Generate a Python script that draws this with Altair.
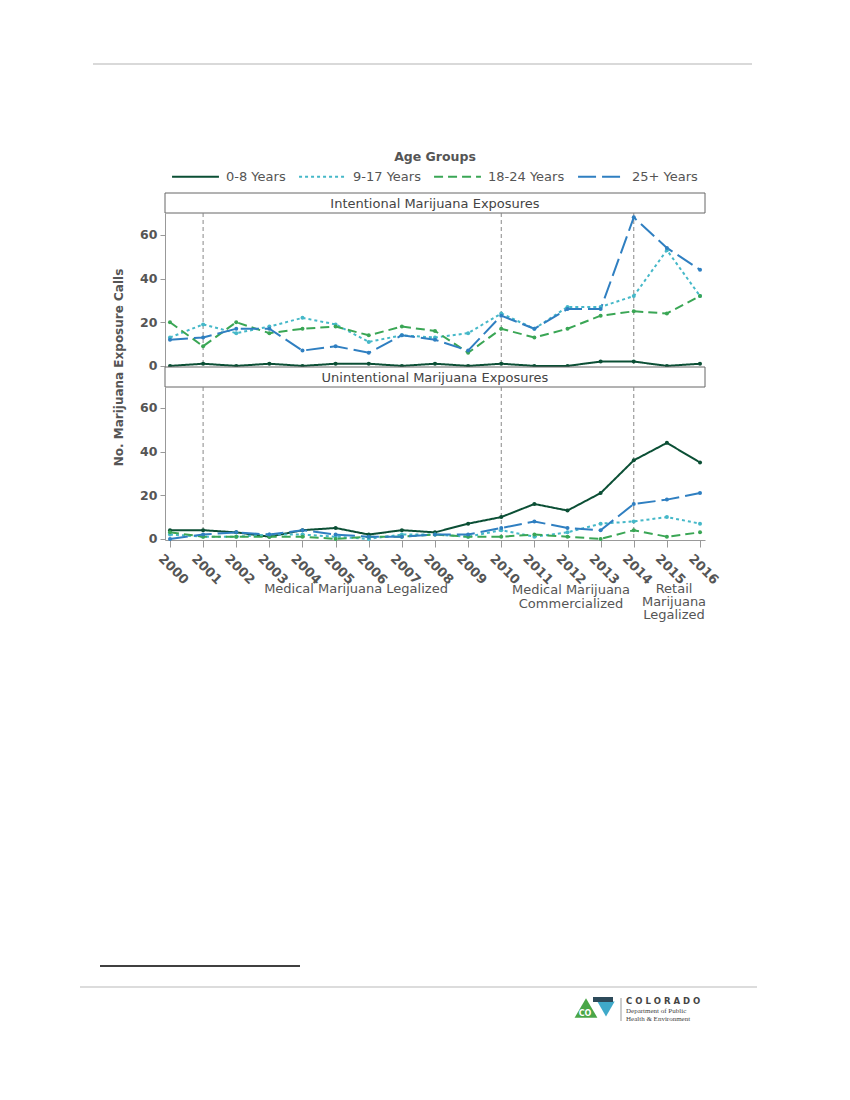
import altair as alt
import pandas as pd

# ---------------- data ----------------
years = [str(y) for y in range(2000, 2017)]
groups = ["0-8 Years", "9-17 Years", "18-24 Years", "25+ Years"]

int_08 = [0, 1, 0, 1, 0, 1, 1, 0, 1, 0, 1, 0, 0, 2, 2, 0, 1]
int_917 = [13, 19, 15, 18, 22, 19, 11, 14, 13, 15, 24, 17, 27, 27, 32, 53, 32]
int_1824 = [20, 9, 20, 15, 17, 18, 14, 18, 16, 6, 17, 13, 17, 23, 25, 24, 32]
int_25 = [12, 13, 17, 17, 7, 9, 6, 14, 12, 7, 23, 17, 26, 26, 68, 54, 44]

unint_08 = [4, 4, 3, 1, 4, 5, 2, 4, 3, 7, 10, 16, 13, 21, 36, 44, 35]
unint_917 = [2, 1, 1, 2, 2, 1, 0, 2, 2, 1, 4, 1, 3, 7, 8, 10, 7]
unint_1824 = [3, 1, 1, 1, 1, 0, 1, 1, 2, 1, 1, 2, 1, 0, 4, 1, 3]
unint_25 = [0, 2, 3, 2, 4, 2, 1, 1, 2, 2, 5, 8, 5, 4, 16, 18, 21]

event_years = ["2001", "2010", "2014"]
y_ticks = [0, 20, 40, 60]

# ---------------- styles ----------------
colors = ["#0b4f35", "#45b8c8", "#3aa655", "#2f7fc1"]
dashes = [[1, 0], [3, 3], [9, 5], [18, 6]]
FONT = "DejaVu Sans"
GRAY = "#555555"
AXGRAY = "#999999"
W = 540


def to_long(series):
    rows = []
    for g, vals in zip(groups, series):
        for yr, v in zip(years, vals):
            rows.append({"year": yr, "group": g, "value": v})
    return pd.DataFrame(rows)


df_int = to_long([int_08, int_917, int_1824, int_25])
df_unint = to_long([unint_08, unint_917, unint_1824, unint_25])
df_events = pd.DataFrame({"year": event_years})
one = pd.DataFrame({"k": [0]})

color_scale = alt.Scale(domain=groups, range=colors)
dash_scale = alt.Scale(domain=groups, range=dashes)
x_scale = alt.Scale(type="point", domain=years, padding=0.15)

legend = alt.Legend(
    title=None, orient="none", legendX=6, legendY=144,
    direction="horizontal", columns=4,
    symbolType="stroke", symbolSize=2200, symbolStrokeWidth=2,
    labelFont=FONT, labelFontSize=13, labelColor=GRAY,
    columnPadding=9, labelOffset=6,
)


def panel(df, height, ydomain, bottom):
    if bottom:
        xax = alt.Axis(labelAngle=45, labelAlign="center", labelBaseline="middle",
                       labelPadding=22, labelOffset=3, labelFont=FONT,
                       labelFontWeight="bold", labelFontSize=13, labelColor=GRAY,
                       tickSize=7, tickColor=AXGRAY, domainColor=AXGRAY,
                       labelOverlap=False)
        yax = alt.Axis(values=y_ticks, grid=False, labelFont=FONT, labelFontWeight="bold",
                       labelFontSize=12.5, labelColor=GRAY, tickColor=AXGRAY,
                       domainColor=AXGRAY, tickSize=5, labelPadding=3,
                       title="No. Marijuana Exposure Calls", titleFont=FONT,
                       titleFontSize=12, titleFontWeight="bold", titleColor=GRAY,
                       titleX=-40, titleY=-20, titleAlign="center")
    else:
        xax = None
        yax = alt.Axis(values=y_ticks, grid=False, labelFont=FONT, labelFontWeight="bold",
                       labelFontSize=12.5, labelColor=GRAY, tickColor=AXGRAY,
                       domainColor=AXGRAY, tickSize=5, labelPadding=3, title=None)
    X = alt.X("year:O", scale=x_scale, axis=xax, title=None)
    Y = alt.Y("value:Q", scale=alt.Scale(domain=ydomain, nice=False, zero=False), axis=yax)

    rules = alt.Chart(df_events).mark_rule(color="#888888", strokeDash=[4, 3], strokeWidth=1).encode(x=X)
    lines = alt.Chart(df).mark_line(
        strokeWidth=2,
        point=alt.OverlayMarkDef(filled=True, size=16, opacity=1),
    ).encode(
        x=X, y=Y,
        color=alt.Color("group:N", scale=color_scale, sort=groups, legend=legend),
        strokeDash=alt.StrokeDash("group:N", scale=dash_scale, sort=groups, legend=legend),
    )
    return [rules, lines]


def strip(label):
    box = alt.Chart(one).mark_rect(fill="white", stroke="#666666", strokeWidth=1).encode(
        x=alt.value(0), x2=alt.value(W), y=alt.value(0), y2=alt.value(20))
    txt = alt.Chart(one).mark_text(font=FONT, fontSize=13, color="#444444", baseline="middle").encode(
        x=alt.value(W / 2), y=alt.value(10.5), text=alt.value(label))
    return alt.layer(box, txt).properties(width=W, height=20)


# header: page anchor + top page rule + legend title
anchor = alt.Chart(one).mark_rect(fill="white", opacity=0).encode(
    x=alt.value(-157), x2=alt.value(675), y=alt.value(0), y2=alt.value(1082))
top_line = alt.Chart(one).mark_rule(color="#cccccc", strokeWidth=1.5).encode(
    x=alt.value(-72), x2=alt.value(587), y=alt.value(56))
legend_title = alt.Chart(one).mark_text(font=FONT, fontSize=12.5, fontWeight="bold", color=GRAY,
                                        baseline="middle").encode(
    x=alt.value(270), y=alt.value(149), text=alt.value("Age Groups"))
header = alt.layer(anchor, top_line, legend_title).properties(width=W, height=185)

top_panel = alt.layer(*panel(df_int, 154, [-0.5, 70], False)).properties(width=W, height=154)

# annotations and page footer (drawn in bottom panel coordinates)
ann_kw = dict(font=FONT, fontSize=13, color=GRAY, baseline="top", align="center")
ann1 = alt.Chart(one).mark_text(**ann_kw).encode(
    x=alt.value(191), y=alt.value(196), text=alt.value("Medical Marijuana Legalized"))
ann2 = alt.Chart(one).mark_text(lineHeight=14, **ann_kw).encode(
    x=alt.value(406), y=alt.value(197), text=alt.value(["Medical Marijuana", "Commercialized"]))
ann3 = alt.Chart(one).mark_text(lineHeight=13, **ann_kw).encode(
    x=alt.value(509), y=alt.value(196), text=alt.value(["Retail", "Marijuana", "Legalized"]))

foot_line = alt.Chart(one).mark_rule(color="#000000", strokeWidth=1.5).encode(
    x=alt.value(-65), x2=alt.value(135), y=alt.value(579))
page_line = alt.Chart(one).mark_rule(color="#d0d0d0", strokeWidth=1.5).encode(
    x=alt.value(-85), x2=alt.value(592), y=alt.value(600))
logo_tri = alt.Chart(one).mark_point(shape="triangle-up", filled=True, color="#4aa648", size=520, opacity=1).encode(
    x=alt.value(421), y=alt.value(621))
logo_co = alt.Chart(one).mark_text(font=FONT, fontSize=8, fontWeight="bold", color="white").encode(
    x=alt.value(420), y=alt.value(627), text=alt.value("CO"))
logo_blue = alt.Chart(one).mark_point(shape="triangle-down", filled=True, color="#3fa9c9", size=300, opacity=1).encode(
    x=alt.value(441), y=alt.value(622))
logo_band = alt.Chart(one).mark_rect(color="#2d4a5a").encode(
    x=alt.value(428), x2=alt.value(448), y=alt.value(610), y2=alt.value(615))
logo_div = alt.Chart(one).mark_rule(color="#999999", strokeWidth=1).encode(
    x=alt.value(456), y=alt.value(611), y2=alt.value(634))
logo_t1 = alt.Chart(one).mark_text(font=FONT, fontSize=8.5, fontWeight="bold", color="#444444", align="left").encode(
    x=alt.value(461), y=alt.value(614), text=alt.value("C O L O R A D O"))
logo_t2 = alt.Chart(one).mark_text(font="Liberation Serif", fontSize=7, color="#444444", align="left").encode(
    x=alt.value(461), y=alt.value(624), text=alt.value("Department of Public"))
logo_t3 = alt.Chart(one).mark_text(font="Liberation Serif", fontSize=7, color="#444444", align="left").encode(
    x=alt.value(461), y=alt.value(632), text=alt.value("Health & Environment"))

bottom_panel = alt.layer(
    *panel(df_unint, 153, [-0.5, 69.6], True),
    ann1, ann2, ann3, foot_line, page_line,
    logo_tri, logo_co, logo_blue, logo_band, logo_div, logo_t1, logo_t2, logo_t3,
).properties(width=W, height=153)

chart = alt.vconcat(
    header,
    strip("Intentional Marijuana Exposures"),
    top_panel,
    strip("Unintentional Marijuana Exposures"),
    bottom_panel,
    spacing=0, bounds="flush",
).resolve_scale(color="shared", strokeDash="shared").resolve_legend(
    color="shared", strokeDash="shared"
).properties(padding=0, background="white").configure_view(stroke=None)

chart.save("out.html", embed_options={"renderer": "svg", "actions": False})
